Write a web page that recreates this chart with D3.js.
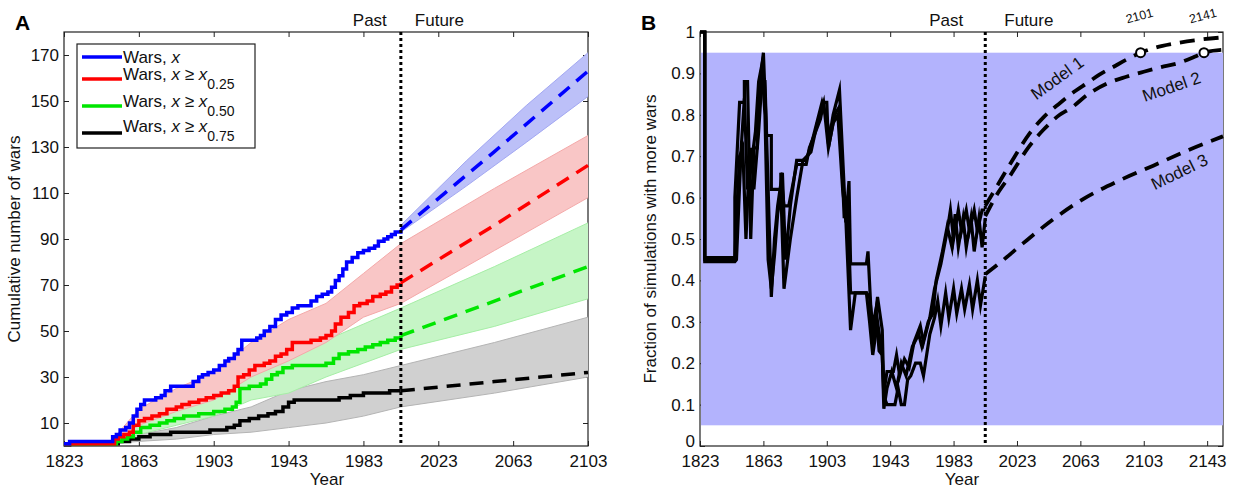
<!DOCTYPE html>
<html><head><meta charset="utf-8">
<script src="https://cdn.jsdelivr.net/npm/d3@7"></script>
<style>body{margin:0;background:#fff} text{font-family:"Liberation Sans",Arial,Helvetica,sans-serif}</style>
</head><body><svg id="c" width="1237" height="489"></svg>
<script>
// ---------- Panel A data ----------
const xTicksA = [1823,1863,1903,1943,1983,2023,2063,2103];
const yTicksA = [10,30,50,70,90,110,130,150,170];
const legendLabels = [["Wars, ", "x", "", ""],["Wars, ","x"," \u2265 x","0.25"],["Wars, ","x"," \u2265 x","0.50"],["Wars, ","x"," \u2265 x","0.75"]];
const seriesColors = ["#0000ff","#ff0000","#00e600","#000000"];
const bandColors = ["#bcc0f8","#f9c6c6","#c6f5c6","#d0d0d0"];
const bandEdge = ["#a3a8f2","#f4a9a9","#a6eea6","#b4b4b4"];

const warsAll = [[1823,1],[1826,2],[1848,2],[1849,4],[1851,5],[1853,7],[1856,8],[1858,10],[1860,13],[1862,16],[1864,18],[1866,20],[1872,21],[1875,22],[1877,24],[1880,26],[1890,26],[1892,28],[1895,30],[1897,31],[1900,32],[1903,33],[1906,35],[1909,37],[1911,38],[1914,40],[1916,42],[1918,46],[1924,46],[1926,47],[1928,48],[1930,50],[1933,52],[1936,55],[1939,57],[1942,58],[1945,60],[1948,61],[1955,63],[1958,65],[1961,66],[1964,67],[1966,69],[1968,72],[1970,74],[1972,77],[1974,80],[1977,82],[1980,84],[1983,85],[1986,86],[1989,87],[1991,89],[1994,90],[1996,91],[1998,92],[2000,93],[2003,94]];
const wars25 = [[1823,1],[1848,1],[1850,3],[1852,4],[1855,5],[1858,6],[1860,9],[1863,11],[1866,12],[1870,13],[1874,14],[1878,16],[1883,17],[1886,18],[1890,19],[1895,20],[1899,21],[1903,22],[1907,23],[1911,24],[1914,26],[1916,30],[1919,31],[1922,33],[1925,35],[1930,36],[1933,37],[1936,39],[1939,40],[1942,42],[1945,45],[1955,46],[1960,47],[1963,48],[1966,50],[1968,53],[1971,56],[1975,58],[1978,61],[1981,62],[1985,63],[1988,65],[1992,66],[1995,67],[1998,69],[2001,70],[2003,71]];
const wars50 = [[1823,1],[1848,1],[1851,2],[1854,3],[1857,4],[1860,6],[1864,8],[1869,9],[1874,10],[1878,11],[1882,12],[1887,13],[1895,14],[1903,15],[1909,16],[1913,17],[1915,19],[1917,25],[1922,26],[1928,27],[1931,29],[1934,31],[1937,32],[1940,34],[1945,35],[1963,36],[1967,38],[1970,40],[1975,41],[1980,42],[1984,43],[1988,44],[1992,45],[1996,46],[2000,47],[2003,48]];
const wars75 = [[1823,0.5],[1826,1],[1850,1],[1852,2],[1858,3],[1863,4],[1869,5],[1880,6],[1901,7],[1910,8],[1914,9],[1917,11],[1922,12],[1927,13],[1932,14],[1936,15],[1940,17],[1943,19],[1946,20],[1970,21],[1976,22],[1983,23],[1997,24],[2003,24]];
const projYears = [2003,2053,2103];
const projAll = [94,128,163];
const proj25 = [71,96,122];
const proj50 = [48,63,78];
const proj75 = [24,28,32];

const bandYears = [1848,1863,1883,1903,1923,1943,1963,1983,2003,2053,2103];
const band25Lo = [1,9,15,20,30,37,45,56,62,85,108];
const band25Hi = [2,16,25,32,45,55,62,75,88,112,135];
const band50Lo = [1,5,9,13,20,23,30,36,42,52,64];
const band50Hi = [1,10,16,22,32,38,46,53,60,78,97];
const band75Lo = [1,2,3,5,6,8,10,13,17,23,30];
const band75Hi = [1,5,8,13,17,24,28,31,35,45,56];
const bandAllYears = [2003,2038,2070,2103];
const bandAllLo = [93,113,132,152];
const bandAllHi = [96,124,148,171];

// ---------- Panel B data ----------
const xTicksB = [1823,1863,1903,1943,1983,2023,2063,2103,2143];
const yTicksB = [0,0.1,0.2,0.3,0.4,0.5,0.6,0.7,0.8,0.9,1];
const frac1 = [[1823,1],[1826,1],[1826,0.455],[1845,0.455],[1845,0.6],[1848,0.83],[1851,0.83],[1851,0.88],[1853,0.88],[1855,0.5],[1857,0.72],[1859,0.72],[1861,0.88],[1863,0.95],[1865,0.75],[1868,0.75],[1868,0.62],[1874,0.62],[1874,0.66],[1876,0.58],[1879,0.58],[1884,0.68],[1890,0.68],[1892,0.72],[1899,0.79],[1901,0.83],[1903,0.83],[1904,0.73],[1907,0.8],[1911,0.86],[1915,0.54],[1917,0.64],[1918,0.44],[1928,0.44],[1929,0.47],[1932,0.24],[1935,0.36],[1938,0.28],[1939,0.13],[1941,0.18],[1945,0.18],[1947,0.22],[1949,0.17],[1952,0.21],[1955,0.19],[1958,0.25],[1962,0.29],[1964,0.25],[1968,0.31],[1971,0.38],[1975,0.44],[1979,0.52],[1981,0.57],[1983,0.5],[1986,0.57],[1988,0.52],[1991,0.57],[1993,0.52],[1996,0.57],[1998,0.52],[2001,0.57],[2003,0.57]];
const frac2 = [[1823,1],[1826,1],[1826,0.445],[1845,0.445],[1846,0.45],[1849,0.72],[1851,0.84],[1853,0.62],[1855,0.72],[1857,0.62],[1860,0.76],[1862,0.88],[1864,0.88],[1866,0.62],[1868,0.36],[1870,0.5],[1872,0.58],[1875,0.66],[1877,0.45],[1880,0.58],[1884,0.69],[1890,0.69],[1894,0.74],[1900,0.83],[1903,0.79],[1905,0.74],[1908,0.8],[1911,0.82],[1914,0.55],[1916,0.6],[1918,0.37],[1928,0.37],[1930,0.36],[1932,0.29],[1934,0.33],[1936,0.23],[1938,0.22],[1939,0.09],[1941,0.14],[1944,0.18],[1947,0.14],[1950,0.2],[1953,0.17],[1957,0.24],[1961,0.27],[1963,0.24],[1967,0.3],[1970,0.32],[1972,0.4],[1976,0.47],[1979,0.53],[1982,0.48],[1984,0.56],[1986,0.48],[1989,0.55],[1991,0.48],[1994,0.55],[1996,0.47],[1999,0.55],[2001,0.48],[2003,0.55]];
const frac3 = [[1823,1],[1826,1],[1826,0.45],[1845,0.45],[1846,0.55],[1848,0.7],[1850,0.72],[1852,0.5],[1854,0.68],[1856,0.7],[1858,0.76],[1860,0.88],[1862,0.92],[1864,0.8],[1866,0.45],[1868,0.38],[1870,0.46],[1872,0.56],[1874,0.62],[1876,0.38],[1880,0.5],[1884,0.6],[1888,0.69],[1893,0.71],[1897,0.78],[1901,0.83],[1904,0.72],[1907,0.78],[1910,0.8],[1913,0.62],[1915,0.55],[1918,0.28],[1921,0.37],[1928,0.37],[1930,0.3],[1932,0.22],[1935,0.3],[1938,0.22],[1939,0.12],[1941,0.1],[1946,0.1],[1948,0.14],[1950,0.1],[1952,0.1],[1954,0.16],[1956,0.17],[1959,0.2],[1962,0.2],[1964,0.17],[1966,0.22],[1968,0.27],[1971,0.31],[1973,0.35],[1975,0.29],[1978,0.37],[1980,0.31],[1983,0.38],[1985,0.32],[1988,0.38],[1990,0.33],[1993,0.39],[1995,0.33],[1998,0.4],[2000,0.34],[2003,0.41]];
const model1 = [[2003,0.58],[2010,0.625],[2019,0.683],[2031,0.755],[2040,0.795],[2050,0.828],[2060,0.858],[2067,0.876],[2075,0.897],[2084,0.916],[2092,0.933],[2101,0.95],[2110,0.962],[2122,0.972],[2135,0.98],[2153,0.987]];
const model2 = [[2003,0.555],[2010,0.605],[2019,0.655],[2030,0.72],[2040,0.765],[2050,0.8],[2057,0.816],[2068,0.85],[2080,0.876],[2092,0.892],[2103,0.904],[2114,0.915],[2125,0.925],[2135,0.94],[2141,0.95],[2153,0.957]];
const model3 = [[2003,0.415],[2013,0.445],[2027,0.49],[2046,0.548],[2065,0.597],[2088,0.642],[2109,0.677],[2130,0.713],[2153,0.748]];
const crossYears = [2101,2141];
const crossValue = 0.95;
const bandLevels = [0.05,0.95];
const modelNames = ["Model 1","Model 2","Model 3"];
const splitYear = 2003;

// ---------- drawing ----------
const svg = d3.select("#c");
const FONT = 17;

function frameAxes(g, x, y, xt, yt, w, h, yFmt) {
  g.append("g").attr("transform",`translate(0,${h})`)
    .call(d3.axisBottom(x).tickValues(xt).tickSize(-5).tickPadding(9).tickFormat(d3.format("d")));
  g.append("g").call(d3.axisTop(x).tickValues(xt).tickSize(-5).tickFormat(""));
  g.append("g").attr("class","yax").call(d3.axisLeft(y).tickValues(yt).tickSize(-5).tickPadding(5).tickFormat(yFmt));
  g.append("g").attr("transform",`translate(${w},0)`).call(d3.axisRight(y).tickValues(yt).tickSize(-5).tickFormat(""));
  g.selectAll(".domain").remove();
  g.selectAll(".tick line").attr("stroke","#222");
  g.selectAll(".tick text").attr("font-size",FONT).attr("fill","#111").attr("font-family",'"Liberation Sans",Arial,sans-serif');
  g.append("rect").attr("width",w).attr("height",h).attr("fill","none").attr("stroke","#222").attr("stroke-width",1.2);
}

// Panel A
const A = {l:64,t:32,r:588,b:446};
const wA = A.r-A.l, hA = A.b-A.t;
const xA = d3.scaleLinear().domain([1823,2103]).range([0,wA]);
const yA = d3.scaleLinear().domain([0,180]).range([hA,0]);
const gA = svg.append("g").attr("transform",`translate(${A.l},${A.t})`);
frameAxes(gA, xA, yA, xTicksA, yTicksA, wA, hA, d3.format("d"));

const bandArea = d3.area().x(d=>xA(d[0])).y0(d=>yA(d[1])).y1(d=>yA(d[2]));
const bandSets = [
  [bandAllYears,bandAllLo,bandAllHi],
  [bandYears,band25Lo,band25Hi],
  [bandYears,band50Lo,band50Hi],
  [bandYears,band75Lo,band75Hi]
];
[3,2,1,0].forEach(i=>{
  const [yy,lo,hi] = bandSets[i];
  const data = yy.map((yr,k)=>[yr,lo[k],hi[k]]);
  gA.append("path").datum(data).attr("d",bandArea).attr("fill",bandColors[i]).attr("stroke","none");
  const ln = d3.line().x(d=>xA(d[0])).y(d=>yA(d[1]));
  gA.append("path").datum(data.map(d=>[d[0],d[1]])).attr("d",ln).attr("fill","none").attr("stroke",bandEdge[i]).attr("stroke-width",1);
  gA.append("path").datum(data.map(d=>[d[0],d[2]])).attr("d",ln).attr("fill","none").attr("stroke",bandEdge[i]).attr("stroke-width",1);
});

const stepLine = d3.line().x(d=>xA(d[0])).y(d=>yA(d[1])).curve(d3.curveStepAfter);
const obs = [warsAll,wars25,wars50,wars75];
const projs = [projAll,proj25,proj50,proj75];
const straight = d3.line().x(d=>xA(d[0])).y(d=>yA(d[1]));
[3,2,1,0].forEach(i=>{
  gA.append("path").datum(obs[i]).attr("d",stepLine).attr("fill","none").attr("stroke",seriesColors[i]).attr("stroke-width",3.5);
  gA.append("path").datum(projYears.map((yr,k)=>[yr,projs[i][k]])).attr("d",straight).attr("fill","none")
    .attr("stroke",seriesColors[i]).attr("stroke-width",3.5).attr("stroke-dasharray","14,9");
});
gA.append("line").attr("x1",xA(splitYear)).attr("x2",xA(splitYear)).attr("y1",0).attr("y2",hA)
  .attr("stroke","#000").attr("stroke-width",3).attr("stroke-dasharray","3,3");

// legend
const lg = gA.append("g").attr("transform","translate(13,12)");
lg.append("rect").attr("width",178).attr("height",104).attr("fill","#fff").attr("stroke","#222").attr("stroke-width",1.2);
const lineY = [13,35,62,89], textY = [19,36,63,88];
legendLabels.forEach((lab,i)=>{
  lg.append("line").attr("x1",5).attr("x2",45).attr("y1",lineY[i]).attr("y2",lineY[i]).attr("stroke",seriesColors[i]).attr("stroke-width",3.5);
  const t = lg.append("text").attr("x",46).attr("y",textY[i]).attr("font-size",FONT).attr("fill","#111");
  t.append("tspan").text(lab[0]);
  t.append("tspan").attr("font-style","italic").text(lab[1]);
  if (lab[2]) {
    t.append("tspan").text(" \u2265 ");
    t.append("tspan").attr("font-style","italic").text("x");
    t.append("tspan").attr("font-size",14).attr("dy",9).text(lab[3]);
  }
});

svg.append("text").attr("x",15).attr("y",30).attr("font-size",21).attr("font-weight","bold").text("A");
svg.append("text").attr("transform",`translate(20,${A.t+hA/2}) rotate(-90)`).attr("text-anchor","middle").attr("font-size",FONT).attr("fill","#111").text("Cumulative number of wars");
svg.append("text").attr("x",327).attr("y",485).attr("text-anchor","middle").attr("font-size",FONT).attr("fill","#111").text("Year");
svg.append("text").attr("x",A.l+xA(splitYear)-14).attr("y",26).attr("text-anchor","end").attr("font-size",FONT).attr("fill","#111").text("Past");
svg.append("text").attr("x",A.l+xA(splitYear)+14).attr("y",26).attr("font-size",FONT).attr("fill","#111").text("Future");

// Panel B
const B = {l:700,t:32,r:1223,b:446};
const wB = B.r-B.l, hB = B.b-B.t;
const xB = d3.scaleLinear().domain([1823,2153]).range([0,wB]);
const yB = d3.scaleLinear().domain([0,1]).range([hB,0]);
const gB = svg.append("g").attr("transform",`translate(${B.l},${B.t})`);
frameAxes(gB, xB, yB, xTicksB, yTicksB, wB, hB, d=> d===0||d===1 ? d3.format("d")(d) : d3.format(".1f")(d));
// lift the "0" label slightly so it clears the year labels, as in the reference
gB.selectAll(".yax .tick text").filter(d=>d===0).attr("dy","0.05em");
gB.append("rect").attr("x",1).attr("width",wB-1).attr("y",yB(bandLevels[1])).attr("height",yB(bandLevels[0])-yB(bandLevels[1])).attr("fill","#b3b3fd");

const fl = d3.line().x(d=>xB(d[0])).y(d=>yB(d[1]));
[frac1,frac2,frac3].forEach(s=>{
  gB.append("path").datum(s).attr("d",fl).attr("fill","none").attr("stroke","#000").attr("stroke-width",3.2)
    .attr("stroke-linejoin","miter").attr("stroke-miterlimit",8);
});
const ml = d3.line().x(d=>xB(d[0])).y(d=>yB(d[1])).curve(d3.curveMonotoneX);
[model1,model2,model3].forEach(s=>{
  gB.append("path").datum(s).attr("d",ml).attr("fill","none").attr("stroke","#000").attr("stroke-width",3.8).attr("stroke-dasharray","15,9");
});
gB.append("line").attr("x1",xB(splitYear)).attr("x2",xB(splitYear)).attr("y1",0).attr("y2",hB)
  .attr("stroke","#000").attr("stroke-width",3).attr("stroke-dasharray","3,3");
crossYears.forEach(yr=>{
  gB.append("circle").attr("cx",xB(yr)).attr("cy",yB(crossValue)).attr("r",4.5).attr("fill","#fff").attr("stroke","#000").attr("stroke-width",2);
  gB.append("text").attr("transform",`translate(${xB(yr)},${-12}) rotate(-15)`).attr("text-anchor","middle").attr("font-size",12.5).attr("fill","#111").text(yr);
});
const modelLab = [[1058,79,-36],[1172,88,-19],[1180,173,-26]];
modelNames.forEach((nm,i)=>{
  const [cx,cy,a] = modelLab[i];
  svg.append("text").attr("transform",`translate(${cx},${cy}) rotate(${a})`).attr("text-anchor","middle").attr("dominant-baseline","middle").attr("font-size",FONT).attr("fill","#111").text(nm);
});

svg.append("text").attr("x",641).attr("y",30).attr("font-size",21).attr("font-weight","bold").text("B");
svg.append("text").attr("transform",`translate(656,${B.t+hB/2}) rotate(-90)`).attr("text-anchor","middle").attr("font-size",FONT).attr("fill","#111").text("Fraction of simulations with more wars");
svg.append("text").attr("x",962).attr("y",485).attr("text-anchor","middle").attr("font-size",FONT).attr("fill","#111").text("Year");
svg.append("text").attr("x",B.l+xB(splitYear)-22).attr("y",26).attr("text-anchor","end").attr("font-size",FONT).attr("fill","#111").text("Past");
svg.append("text").attr("x",B.l+xB(splitYear)+19).attr("y",26).attr("font-size",FONT).attr("fill","#111").text("Future");
</script></body></html>
